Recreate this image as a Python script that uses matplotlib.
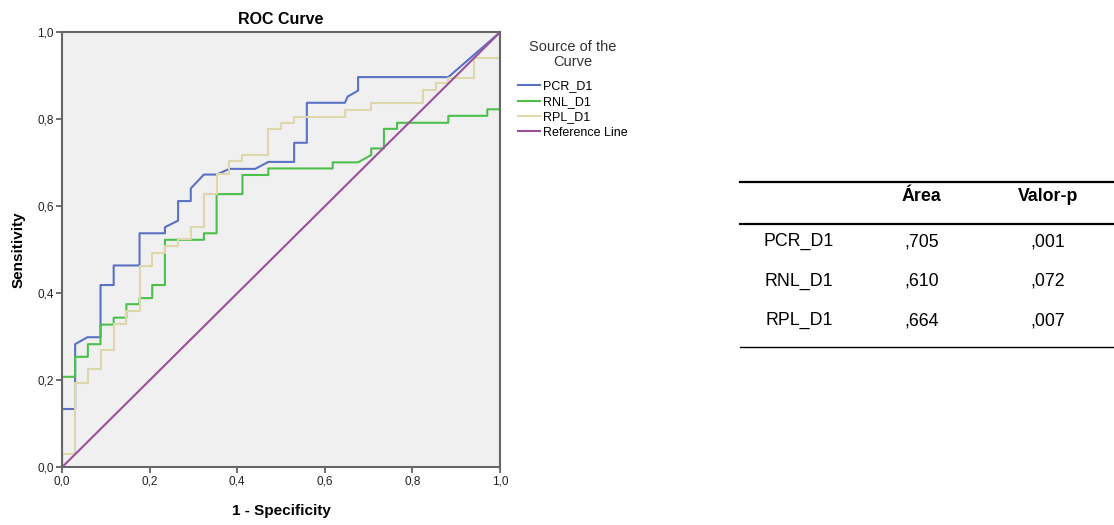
import matplotlib
matplotlib.use("Agg")
import matplotlib.pyplot as plt
from matplotlib.lines import Line2D

plt.rcParams["font.family"] = ["Liberation Sans", "DejaVu Sans"]

# ROC curve points (1 - specificity, sensitivity)
pcr_fpr = [0, 0, 0.03, 0.03, 0.058, 0.088, 0.088, 0.118, 0.118, 0.177, 0.177, 0.235,
           0.235, 0.265, 0.265, 0.294, 0.294, 0.324, 0.353, 0.382, 0.441, 0.471,
           0.530, 0.530, 0.559, 0.559, 0.646, 0.652, 0.676, 0.676, 0.882, 1.0]
pcr_tpr = [0, 0.134, 0.134, 0.283, 0.299, 0.299, 0.419, 0.419, 0.464, 0.464, 0.538, 0.538,
           0.552, 0.567, 0.612, 0.612, 0.641, 0.673, 0.673, 0.686, 0.686, 0.702,
           0.702, 0.746, 0.746, 0.838, 0.838, 0.852, 0.866, 0.897, 0.897, 1.0]

rnl_fpr = [0, 0, 0.03, 0.03, 0.059, 0.059, 0.088, 0.088, 0.118, 0.118, 0.147, 0.147,
           0.177, 0.177, 0.206, 0.206, 0.235, 0.235, 0.324, 0.324, 0.353, 0.353,
           0.412, 0.412, 0.471, 0.471, 0.618, 0.618, 0.676, 0.706, 0.706, 0.735,
           0.735, 0.765, 0.765, 0.882, 0.882, 0.971, 0.971, 1.0, 1.0]
rnl_tpr = [0, 0.208, 0.208, 0.254, 0.254, 0.283, 0.283, 0.328, 0.328, 0.344, 0.344, 0.375,
           0.375, 0.389, 0.389, 0.419, 0.419, 0.523, 0.523, 0.538, 0.538, 0.628,
           0.628, 0.672, 0.672, 0.687, 0.687, 0.701, 0.701, 0.718, 0.733, 0.733,
           0.778, 0.778, 0.792, 0.792, 0.808, 0.808, 0.823, 0.823, 1.0]

rpl_fpr = [0, 0, 0.03, 0.03, 0.059, 0.059, 0.088, 0.088, 0.118, 0.118, 0.147, 0.147,
           0.177, 0.177, 0.206, 0.206, 0.235, 0.235, 0.265, 0.265, 0.294, 0.294,
           0.324, 0.324, 0.353, 0.353, 0.382, 0.382, 0.412, 0.412, 0.471, 0.471,
           0.5, 0.5, 0.53, 0.53, 0.647, 0.647, 0.706, 0.706, 0.824, 0.824,
           0.853, 0.853, 0.882, 0.882, 0.941, 0.941, 1.0, 1.0]
rpl_tpr = [0, 0.031, 0.031, 0.194, 0.194, 0.225, 0.225, 0.270, 0.270, 0.329, 0.329, 0.359,
           0.359, 0.463, 0.463, 0.493, 0.493, 0.509, 0.509, 0.524, 0.524, 0.553,
           0.553, 0.628, 0.628, 0.674, 0.674, 0.703, 0.703, 0.718, 0.718, 0.777,
           0.777, 0.792, 0.792, 0.806, 0.806, 0.822, 0.822, 0.837, 0.837, 0.867,
           0.867, 0.883, 0.883, 0.894, 0.894, 0.940, 0.940, 1.0]

ref_line = [0, 1]

# table values
row_names = ["PCR_D1", "RNL_D1", "RPL_D1"]
area_vals = [",705", ",610", ",664"]
p_vals = [",001", ",072", ",007"]

W, H = 1114, 525
fig = plt.figure(figsize=(W / 100, H / 100), dpi=100)
ax = fig.add_axes([62 / W, 1 - 467.3 / H, 438 / W, 435 / H])
ax.set_facecolor("#f0f0f0")

ax.plot(pcr_fpr, pcr_tpr, color="#5b72c4", lw=1.5, label="PCR_D1")
ax.plot(rnl_fpr, rnl_tpr, color="#4cc04c", lw=1.5, label="RNL_D1")
ax.plot(rpl_fpr, rpl_tpr, color="#dcd8ac", lw=1.5, label="RPL_D1")
ax.plot(ref_line, ref_line, color="#9c4f9c", lw=1.5, label="Reference Line")

ax.set_xlim(0, 1)
ax.set_ylim(0, 1)
ticks = [0, 0.2, 0.4, 0.6, 0.8, 1.0]
ax.set_xticks(ticks)
ax.set_yticks(ticks)
ax.set_xticklabels([f"{t:.1f}".replace(".", ",") for t in ticks])
ax.set_yticklabels([f"{t:.1f}".replace(".", ",") for t in ticks])
ax.tick_params(direction="out", length=4, width=1.2, color="#555555",
               labelsize=8.5, labelcolor="#222222", pad=2)
for s in ax.spines.values():
    s.set_color("#666666")
    s.set_linewidth(1.5)

ax.set_title("ROC Curve", fontsize=11.5, fontweight="bold", pad=6)
ax.set_xlabel("1 - Specificity", fontsize=11, fontweight="bold", labelpad=12)
ax.set_ylabel("Sensitivity", fontsize=11, fontweight="bold", labelpad=8)

# legend placed outside, title written separately so it can sit higher
handles, labels = ax.get_legend_handles_labels()
fig.legend(handles, labels, loc="upper left",
           bbox_to_anchor=(518 / W, 1 - 80.5 / H), bbox_transform=fig.transFigure,
           frameon=False, fontsize=9, handlelength=1.75, handletextpad=0.25,
           labelspacing=0.27, borderpad=0, borderaxespad=0)

# overlay in pixel coordinates for legend title and the table
tax = fig.add_axes([0, 0, 1, 1])
tax.set_xlim(0, W)
tax.set_ylim(H, 0)
tax.axis("off")

tax.text(573, 47, "Source of the", ha="center", va="center", fontsize=10.5, color="#333333")
tax.text(573, 62, "Curve", ha="center", va="center", fontsize=10.5, color="#333333")

tax.add_line(Line2D([740, W], [182.3, 182.3], color="black", lw=1.6))
tax.add_line(Line2D([740, W], [224.3, 224.3], color="black", lw=1.6))
tax.add_line(Line2D([740, W], [346.7, 346.7], color="black", lw=1.0))

tax.text(921.7, 196.7, "Área", ha="center", va="center", fontsize=12.75, fontweight="bold")
tax.text(1048, 196.7, "Valor-p", ha="center", va="center", fontsize=12.75, fontweight="bold")
row_y = [241.7, 281, 320.7]
for name, a, p, y in zip(row_names, area_vals, p_vals, row_y):
    tax.text(799, y, name, ha="center", va="center", fontsize=12.75)
    tax.text(921.7, y, a, ha="center", va="center", fontsize=12.75)
    tax.text(1048, y, p, ha="center", va="center", fontsize=12.75)

fig.savefig("out.png", dpi=100)
